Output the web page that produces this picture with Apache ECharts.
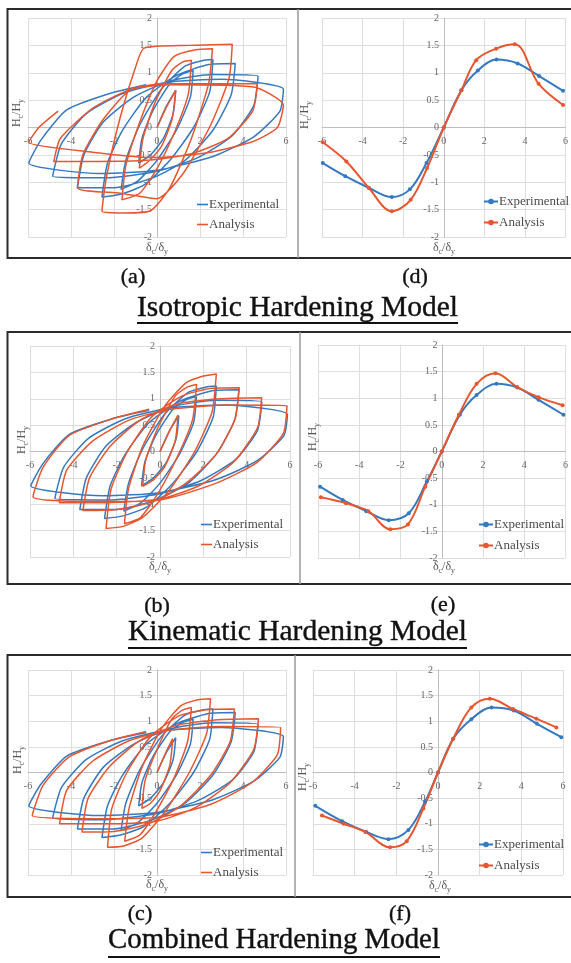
<!DOCTYPE html>
<html>
<head>
<meta charset="utf-8">
<script src="https://cdn.jsdelivr.net/npm/echarts@6/dist/echarts.min.js"></script>
<style>
  html, body { margin: 0; padding: 0; background: #fff; }
  #chart { width: 571px; height: 963px; }
</style>
</head>
<body>
<div id="chart"></div>
<script>
// ---- Axis ticks ----
const xTicks = { min: -6, max: 6, step: 2 };
const yTicks = { min: -2, max: 2, step: 0.5 };

// ---- Hysteresis loops (δc/δy, Hc/Hy), traced cycle by cycle ----
// Test record: same experimental loops in all three comparisons
const expLoops = [
  [0,0],[0.45,0.4],[0.87,0.68],
  [0.75,0.25],[0.3,-0.2],[-0.3,-0.5],[-0.85,-0.65],
  [-0.7,-0.2],[-0.2,0.3],[0.6,0.8],[1.2,0.98],[1.68,1.04],
  [1.55,0.55],[0.9,-0.05],[0,-0.6],[-0.9,-0.98],[-1.67,-1.13],
  [-1.45,-0.6],[-0.8,0.05],[0.2,0.7],[1.3,1.12],[2.1,1.22],[2.6,1.24],
  [2.45,0.65],[1.7,0.0],[0.6,-0.6],[-0.6,-1.05],[-1.7,-1.22],[-2.56,-1.27],
  [-2.3,-0.65],[-1.6,-0.05],[-0.5,0.55],[0.9,0.95],[2.4,1.15],[3.64,1.17],
  [3.45,0.6],[2.6,-0.05],[1.3,-0.6],[-0.2,-0.92],[-2.0,-1.1],[-3.7,-1.1],
  [-3.4,-0.5],[-2.5,0.1],[-1.1,0.55],[0.6,0.85],[2.6,0.97],[4.7,0.94],
  [4.5,0.4],[3.5,-0.15],[1.9,-0.55],[0,-0.8],[-2.4,-0.92],[-4.85,-0.89],
  [-4.45,-0.3],[-3.3,0.25],[-1.6,0.62],[0.4,0.82],[3,0.88],[5.88,0.7],
  [5.72,0.3],[4.5,-0.17],[2.6,-0.53],[0,-0.78],[-2.65,-0.84],[-5.96,-0.65],
  [-5.4,-0.23],[-4.2,0.32],[-2.2,0.62],[-0.5,0.78]
];

// Isotropic hardening analysis
const anaLoopsIso = [
  [0,0],[0.45,0.38],[0.87,0.68],
  [0.7,0.15],[0.2,-0.35],[-0.4,-0.62],[-0.82,-0.74],
  [-0.65,-0.2],[-0.1,0.45],[0.7,1.05],[1.2,1.2],[1.6,1.23],
  [1.45,0.6],[0.8,-0.1],[0,-0.75],[-0.8,-1.2],[-1.63,-1.32],
  [-1.45,-0.7],[-0.8,0.1],[0,0.85],[0.8,1.3],[1.8,1.42],[2.58,1.44],
  [2.4,0.8],[1.6,-0.2],[0.6,-1.1],[-0.3,-1.52],[-1.5,-1.56],[-2.56,-1.53],
  [-2.35,-0.9],[-1.7,0.2],[-1.0,1.1],[-0.6,1.45],[1.5,1.5],[3.5,1.52],
  [3.35,0.9],[2.5,0.05],[1.2,-0.85],[0,-1.3],[-1.7,-1.2],[-3.7,-1.1],
  [-3.45,-0.5],[-2.5,0.15],[-1.2,0.7],[0.5,0.8],[2.8,0.8],[4.67,0.8],
  [4.45,0.3],[3.3,-0.2],[1.6,-0.48],[-0.5,-0.6],[-2.8,-0.62],[-4.8,-0.62],
  [-4.5,-0.2],[-3.0,0.35],[-1.2,0.7],[0.5,0.78],[4.5,0.74],[5.88,0.41],
  [5.6,0.0],[4.5,-0.25],[2.5,-0.45],[0,-0.55],[-3,-0.45],[-5.96,-0.27],
  [-5.5,0.0],[-4.6,0.3]
];

// Kinematic hardening analysis
const anaLoopsKin = [
  [0,0],[0.45,0.4],[0.83,0.69],
  [0.7,0.2],[0.2,-0.3],[-0.35,-0.55],[-0.8,-0.66],
  [-0.65,-0.15],[-0.1,0.45],[0.7,1.05],[1.25,1.22],[1.69,1.27],
  [1.5,0.6],[0.8,-0.1],[-0.1,-0.8],[-0.9,-1.25],[-1.64,-1.37],
  [-1.45,-0.7],[-0.8,0.1],[0.2,0.85],[1.2,1.3],[2.0,1.43],[2.6,1.47],
  [2.4,0.75],[1.6,0.0],[0.4,-0.75],[-0.8,-1.25],[-1.7,-1.42],[-2.49,-1.46],
  [-2.25,-0.7],[-1.5,0.0],[-0.4,0.65],[1.0,1.05],[2.4,1.2],[3.66,1.21],
  [3.45,0.6],[2.6,-0.05],[1.2,-0.6],[-0.3,-0.95],[-2.0,-1.1],[-3.56,-1.12],
  [-3.25,-0.5],[-2.3,0.1],[-0.9,0.6],[0.8,0.9],[2.8,1.0],[4.69,1.02],
  [4.5,0.45],[3.4,-0.2],[1.8,-0.65],[0,-0.9],[-2.4,-0.97],[-4.65,-0.97],
  [-4.3,-0.35],[-3.1,0.2],[-1.4,0.6],[0.5,0.8],[3.2,0.88],[5.86,0.87],
  [5.7,0.35],[4.5,-0.2],[2.6,-0.6],[0,-0.92],[-2.8,-0.95],[-5.86,-0.86],
  [-5.4,-0.3],[-4.2,0.3],[-2.2,0.62],[-0.5,0.8]
];

// Combined hardening analysis
const anaLoopsCom = [
  [0,0],[0.4,0.38],[0.73,0.66],
  [0.6,0.15],[0.15,-0.35],[-0.3,-0.6],[-0.7,-0.7],
  [-0.55,-0.15],[0,0.45],[0.7,1.05],[1.2,1.22],[1.6,1.27],
  [1.42,0.6],[0.8,-0.1],[-0.1,-0.8],[-0.8,-1.22],[-1.5,-1.34],
  [-1.3,-0.7],[-0.7,0.1],[0.2,0.85],[1.1,1.3],[1.9,1.42],[2.49,1.44],
  [2.3,0.75],[1.5,0.0],[0.4,-0.75],[-0.7,-1.28],[-1.6,-1.44],[-2.3,-1.46],
  [-2.1,-0.7],[-1.4,0.0],[-0.3,0.7],[1.0,1.1],[2.4,1.23],[3.6,1.24],
  [3.4,0.6],[2.5,-0.05],[1.1,-0.65],[-0.4,-1.0],[-2.0,-1.15],[-3.49,-1.16],
  [-3.2,-0.5],[-2.2,0.12],[-0.8,0.62],[0.9,0.92],[2.8,1.03],[4.72,1.05],
  [4.5,0.45],[3.4,-0.2],[1.8,-0.68],[0,-0.95],[-2.3,-1.0],[-4.53,-1.0],
  [-4.2,-0.35],[-3.0,0.22],[-1.3,0.62],[0.5,0.82],[3.0,0.9],[5.75,0.88],
  [5.6,0.35],[4.4,-0.2],[2.5,-0.62],[0,-0.88],[-2.8,-0.9],[-5.8,-0.84],
  [-5.3,-0.25],[-4.1,0.3],[-2.2,0.62],[-0.5,0.8]
];

// ---- Skeleton (envelope) curves ----
const skelExpIso = [[-5.96,-0.65],[-4.85,-0.89],[-3.7,-1.1],[-2.56,-1.27],[-1.67,-1.13],[-0.85,-0.65],[0,0],[0.87,0.68],[1.68,1.04],[2.6,1.24],[3.64,1.17],[4.7,0.94],[5.88,0.67]];
const skelAnaIso = [[-5.96,-0.27],[-4.8,-0.62],[-3.7,-1.1],[-2.56,-1.53],[-1.63,-1.32],[-0.82,-0.74],[0,0],[0.87,0.68],[1.6,1.23],[2.58,1.44],[3.5,1.52],[4.67,0.8],[5.88,0.41]];
const skelExpKin = [[-5.9,-0.66],[-4.8,-0.91],[-3.66,-1.12],[-2.57,-1.29],[-1.6,-1.16],[-0.72,-0.56],[0,0],[0.88,0.69],[1.69,1.06],[2.65,1.27],[3.66,1.2],[4.69,0.97],[5.9,0.69]];
const skelAnaKin = [[-5.86,-0.86],[-4.65,-0.97],[-3.56,-1.12],[-2.49,-1.46],[-1.64,-1.37],[-0.8,-0.66],[0,0],[0.83,0.69],[1.69,1.27],[2.6,1.47],[3.66,1.21],[4.69,1.02],[5.86,0.87]];
const skelExpCom = [[-5.89,-0.65],[-4.6,-0.95],[-3.44,-1.16],[-2.38,-1.3],[-1.42,-1.12],[-0.62,-0.57],[0,0],[0.73,0.66],[1.6,1.04],[2.57,1.27],[3.64,1.21],[4.75,0.95],[5.92,0.69]];
const skelAnaCom = [[-5.57,-0.84],[-4.53,-1.0],[-3.49,-1.16],[-2.3,-1.46],[-1.5,-1.34],[-0.7,-0.7],[0,0],[0.73,0.66],[1.6,1.27],[2.49,1.44],[3.6,1.24],[4.72,1.05],[5.68,0.88]];

// ---- Text ----
const seriesNames = ['Experimental', 'Analysis'];
const panelLetters = ['(a)', '(d)', '(b)', '(e)', '(c)', '(f)'];
const modelTitles = ['Isotropic Hardening Model', 'Kinematic Hardening Model', 'Combined Hardening Model'];

// ---- Layout ----
const BLUE = '#3579c0';
const RED = '#e8562f';
const SERIF = '"Liberation Serif", "Times New Roman", serif';

const grids = [
  { left: 28,  top: 18,  width: 258, height: 219 }, // a
  { left: 322, top: 18,  width: 244, height: 219 }, // d
  { left: 30,  top: 346, width: 260, height: 211 }, // b
  { left: 318, top: 345, width: 249, height: 213 }, // e
  { left: 28,  top: 670, width: 258, height: 205 }, // c
  { left: 313, top: 670, width: 250, height: 205 }  // f
];
const legendPos = [
  { left: 192, top: 193 }, { left: 478, top: 190 },
  { left: 196, top: 513 }, { left: 473, top: 513 },
  { left: 196, top: 841 }, { left: 473, top: 833 }
];
const yNamePos = [[17,113],[305,115],[22,440],[313,437],[18,760],[303,777]];
const xNamePos = [[157,248],[444,248],[160,567],[444,567],[157,885],[440,886]];
const letterPos = [[133,277],[415,277],[157,606],[443,605],[140,914],[400,914]];
const titleSpan = [[137,458,318,323],[128,467,642,648],[108,440,950,957]];
const frames = [[9,258,298],[332,584,300],[655,897,295]];

const gridLine = { show: true, showMinLine: true, showMaxLine: true, lineStyle: { color: '#dedede', width: 1 } };

// Axes sit on the origin of a symmetric range: shift them half the plot size inward
function makeX(i) {
  return {
    gridIndex: i, type: 'value', min: xTicks.min, max: xTicks.max, interval: xTicks.step,
    position: 'bottom', offset: -grids[i].height / 2,
    axisLine: { show: true, onZero: false, lineStyle: { color: '#bdbdbd', width: 1 } },
    axisTick: { show: false },
    axisLabel: { color: '#666', fontSize: 10, fontFamily: SERIF, margin: 9, hideOverlap: false,
                 showMinLabel: true, showMaxLabel: true },
    splitLine: gridLine
  };
}
function makeY(i) {
  return {
    gridIndex: i, type: 'value', min: yTicks.min, max: yTicks.max, interval: yTicks.step,
    position: 'left', offset: -grids[i].width / 2,
    axisLine: { show: true, onZero: false, lineStyle: { color: '#bdbdbd', width: 1 } },
    axisTick: { show: false },
    axisLabel: { color: '#666', fontSize: 10, fontFamily: SERIF, margin: 5, hideOverlap: false,
                 showMinLabel: true, showMaxLabel: true },
    splitLine: gridLine
  };
}

function loopSeries(name, data, gi, color) {
  return {
    name, type: 'line', xAxisIndex: gi, yAxisIndex: gi, data,
    symbol: 'none', showSymbol: false, smooth: 0.2,
    lineStyle: { color, width: 1.5 }, itemStyle: { color },
    animation: false, z: 3
  };
}
function skelSeries(name, data, gi, color) {
  return {
    name, type: 'line', xAxisIndex: gi, yAxisIndex: gi, data,
    symbol: 'circle', symbolSize: 4, showSymbol: true, smooth: 0.35,
    lineStyle: { color, width: 2 }, itemStyle: { color },
    animation: false, z: 3
  };
}

// Skeleton series carry a trailing space so their legend keeps its own marker icon
const skelNames = seriesNames.map(n => n + ' ');

const series = [
  loopSeries(seriesNames[0], expLoops, 0, BLUE), loopSeries(seriesNames[1], anaLoopsIso, 0, RED),
  skelSeries(skelNames[0], skelExpIso, 1, BLUE), skelSeries(skelNames[1], skelAnaIso, 1, RED),
  loopSeries(seriesNames[0], expLoops, 2, BLUE), loopSeries(seriesNames[1], anaLoopsKin, 2, RED),
  skelSeries(skelNames[0], skelExpKin, 3, BLUE), skelSeries(skelNames[1], skelAnaKin, 3, RED),
  loopSeries(seriesNames[0], expLoops, 4, BLUE), loopSeries(seriesNames[1], anaLoopsCom, 4, RED),
  skelSeries(skelNames[0], skelExpCom, 5, BLUE), skelSeries(skelNames[1], skelAnaCom, 5, RED)
];

const legends = legendPos.map((p, i) => {
  const loops = (i % 2 === 0);
  return {
    data: loops ? seriesNames.map(n => ({ name: n, icon: 'rect' })) : skelNames,
    left: p.left, top: p.top, orient: 'vertical',
    itemWidth: loops ? 11 : 14, itemHeight: loops ? 1.6 : 7, itemGap: loops ? 7 : 8,
    textStyle: { fontFamily: SERIF, fontSize: 13, color: '#4a4a4a', padding: [0, 0, 0, -4] },
    selectedMode: false
  };
});

// ---- Frames, captions and axis titles ----
const graphic = [];
frames.forEach(([y0, y1, xd]) => {
  graphic.push({ type: 'rect', shape: { x: 7.5, y: y0, width: 575, height: y1 - y0 },
                 style: { fill: 'none', stroke: '#2b2b2b', lineWidth: 2 }, z: 10 });
  graphic.push({ type: 'line', shape: { x1: xd, y1: y0, x2: xd, y2: y1 },
                 style: { stroke: '#9a9a9a', lineWidth: 1.5 }, z: 10 });
});

const richAxis = {
  a: { fontFamily: SERIF, fontSize: 12, fill: '#555', color: '#555' },
  s: { fontFamily: SERIF, fontSize: 8, fill: '#555', color: '#555', verticalAlign: 'bottom', padding: [7, 0, 0, 0] }
};
yNamePos.forEach(([x, y]) => {
  graphic.push({ type: 'text', x, y, rotation: Math.PI / 2, z: 10,
    style: { text: '{a|H}{s|c}{a|/H}{s|y}', rich: richAxis, align: 'center', verticalAlign: 'middle' } });
});
xNamePos.forEach(([x, y]) => {
  graphic.push({ type: 'text', x, y, z: 10,
    style: { text: '{a|δ}{s|c}{a|/δ}{s|y}', rich: richAxis, align: 'center', verticalAlign: 'middle' } });
});

// Captions: a faint outline gives the serif a slightly heavier book weight
panelLetters.forEach((t, i) => {
  const [x, y] = letterPos[i];
  graphic.push({ type: 'text', x, y, z: 10,
    style: { text: t, font: '22px ' + SERIF, fill: '#111', stroke: '#111', lineWidth: 0.4,
             align: 'center', verticalAlign: 'middle' } });
});

const ctx = document.createElement('canvas').getContext('2d');
modelTitles.forEach((t, i) => {
  const [x0, x1, base, ul] = titleSpan[i];
  ctx.font = '100px ' + SERIF;
  const size = 100 * (x1 - x0) / ctx.measureText(t).width;
  graphic.push({ type: 'text', x: (x0 + x1) / 2, y: base - 0.33 * size, z: 10,
    style: { text: t, font: size.toFixed(2) + 'px ' + SERIF, fill: '#111', stroke: '#111', lineWidth: 0.4,
             align: 'center', verticalAlign: 'middle' } });
  graphic.push({ type: 'line', shape: { x1: x0, y1: ul, x2: x1, y2: ul }, z: 10,
    style: { stroke: '#111', lineWidth: 2 } });
});

const chart = echarts.init(document.getElementById('chart'), null, { renderer: 'canvas' });
chart.setOption({
  backgroundColor: '#ffffff',
  animation: false,
  grid: grids,
  xAxis: grids.map((g, i) => makeX(i)),
  yAxis: grids.map((g, i) => makeY(i)),
  legend: legends,
  series,
  graphic
});
</script>
</body>
</html>
